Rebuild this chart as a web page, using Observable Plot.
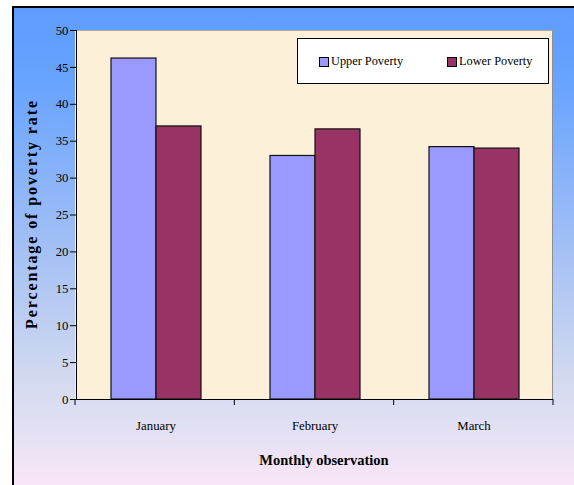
<!DOCTYPE html>
<html>
<head>
<meta charset="utf-8">
<script src="https://cdn.jsdelivr.net/npm/d3@7"></script>
<script src="https://cdn.jsdelivr.net/npm/@observablehq/plot@0.6"></script>
<style>
  html, body { margin: 0; padding: 0; background: #fff; width: 574px; height: 485px; overflow: hidden; }
  #chart { position: relative; width: 574px; height: 485px; font-family: "Liberation Serif", "Times New Roman", serif; color: #000; }
  #bg {
    position: absolute; left: 12px; top: 6px; width: 562px; height: 479px; box-sizing: border-box;
    border-left: 2px solid #000; border-top: 2px solid #000;
    background: linear-gradient(to bottom, #5d9cff 0%, #67a3ff 15%, #9dbdf6 47%, #d3daf0 78%, #e2e0f3 88%, #f9e6f7 100%);
  }
  #plotArea { position: absolute; left: 75px; top: 30px; width: 478px; height: 369px; box-sizing: border-box;
    background: #fdf0d8; border-top: 1px solid #b0a89c; border-right: 1px solid #8f8f8f; }
  #chart svg { position: absolute; left: 0; top: 0; }
  #chart svg text { font-size: 12.8px; }
  .ytitle { position: absolute; left: 32px; top: 214px; transform: translate(-50%, -50%) rotate(-90deg);
    white-space: nowrap; font-weight: bold; font-size: 16px; letter-spacing: 1.9px; }
  .xtitle { position: absolute; left: 324px; top: 460px; transform: translate(-50%, -50%);
    white-space: nowrap; font-weight: bold; font-size: 14.5px; }
  .legend { position: absolute; left: 297px; top: 38px; width: 252px; height: 46px; box-sizing: border-box;
    border: 1px solid #000; background: #fff; font-size: 12.3px; }
  .legend .item { position: absolute; top: 15px; display: flex; align-items: center; white-space: nowrap; }
  .legend .sw { width: 8px; height: 8px; border: 1px solid #000; margin-right: 2px; }
</style>
</head>
<body>
<div id="chart">
  <div id="bg"></div>
  <div id="plotArea"></div>
</div>
<script>
// Monthly poverty rates (%)
const months = ["January", "February", "March"];
const seriesNames = ["Upper Poverty", "Lower Poverty"];
const upperPoverty = [46.2, 33.0, 34.2];
const lowerPoverty = [37.0, 36.6, 34.0];
const yTicks = [0, 5, 10, 15, 20, 25, 30, 35, 40, 45, 50];
const seriesColors = ["#9999ff", "#993366"];

const rows = months.flatMap((m, i) => [
  {month: m, series: seriesNames[0], value: upperPoverty[i]},
  {month: m, series: seriesNames[1], value: lowerPoverty[i]}
]);

const chart = Plot.plot({
  width: 574,
  height: 485,
  marginLeft: 75,
  marginRight: 21,
  marginTop: 30,
  marginBottom: 86,
  style: {background: "transparent", fontFamily: "Liberation Serif, Times New Roman, serif", fontSize: "12.8px", color: "#000"},
  facet: {data: rows, x: "month"},
  fx: {domain: months, padding: 0, axis: "bottom", tickSize: 0, tickPadding: 21, label: null},
  x: {domain: seriesNames, paddingInner: 0, paddingOuter: 0.75, axis: null},
  y: {domain: [0, 50], ticks: yTicks, tickSize: 6, tickPadding: 2, label: null, line: true},
  color: {domain: seriesNames, range: seriesColors},
  marks: [
    Plot.barY(rows, {x: "series", y: "value", fill: "series", stroke: "#111", strokeWidth: 1.2}),
    Plot.ruleY([0], {stroke: "#000", strokeWidth: 1.2})
  ]
});

const root = document.getElementById("chart");
root.appendChild(chart);

// Category separator ticks below the baseline, at the facet band edges
const fxs = chart.scale("fx");
const ys = chart.scale("y");
const band = d3.scaleBand(fxs.domain, fxs.range)
  .paddingInner(fxs.paddingInner ?? fxs.padding ?? 0)
  .paddingOuter(fxs.paddingOuter ?? fxs.padding ?? 0)
  .align(fxs.align ?? 0.5);
const y0 = ys.apply ? ys.apply(0) : d3.scaleLinear(ys.domain, ys.range)(0);
const edges = months.map(m => band(m)).concat([band(months[months.length - 1]) + band.bandwidth()]);
d3.select(chart).append("g")
  .attr("stroke", "#000")
  .selectAll("line")
  .data(edges)
  .join("line")
  .attr("x1", d => d).attr("x2", d => d)
  .attr("y1", y0).attr("y2", y0 + 6);

// Axis titles and legend
const yTitle = document.createElement("div");
yTitle.className = "ytitle";
yTitle.textContent = "Percentage of poverty rate";
root.appendChild(yTitle);

const xTitle = document.createElement("div");
xTitle.className = "xtitle";
xTitle.textContent = "Monthly observation";
root.appendChild(xTitle);

const legend = document.createElement("div");
legend.className = "legend";
const legendLeft = [21, 149];
seriesNames.forEach((name, i) => {
  const item = document.createElement("div");
  item.className = "item";
  item.style.left = legendLeft[i] + "px";
  const sw = document.createElement("span");
  sw.className = "sw";
  sw.style.background = seriesColors[i];
  item.appendChild(sw);
  item.appendChild(document.createTextNode(name));
  legend.appendChild(item);
});
root.appendChild(legend);
</script>
</body>
</html>
